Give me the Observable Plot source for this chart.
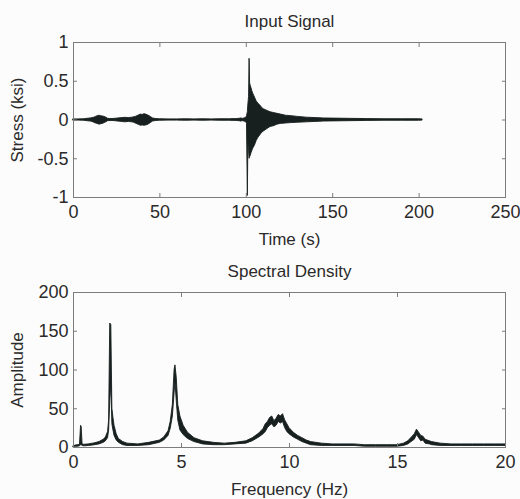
<!DOCTYPE html>
<html>
<head>
<meta charset="utf-8">
<script src="https://cdn.jsdelivr.net/npm/d3@7"></script>
<script src="https://cdn.jsdelivr.net/npm/@observablehq/plot@0.6"></script>
<style>
  html, body { margin: 0; padding: 0; background: #fdfcfc; }
  #chart svg { display: block; }
</style>
</head>
<body>
<div id="chart"></div>
<script>
// ---------- Input signal (envelope) ----------
const sigT  = [0, 3, 6, 8, 10, 11, 12, 13, 14, 15, 16, 17, 18, 19, 20, 22, 24, 26, 28, 30, 32, 34, 35, 36, 37, 38, 39, 40, 41, 42, 43, 44, 45, 46, 48, 50, 55, 60, 65, 70, 75, 80, 85, 90, 94, 96, 97, 98, 99, 100,
               100.4, 100.9, 101.2, 101.6, 101.9, 102.2, 102.6, 103, 103.5, 104, 105, 106, 107, 108, 109, 110, 112, 114, 116, 118, 120, 123, 126, 130, 135, 140, 145, 150, 160, 170, 180, 190, 200, 202];
const sigHi = [0.008, 0.008, 0.01, 0.015, 0.02, 0.025, 0.03, 0.04, 0.05, 0.055, 0.05, 0.045, 0.04, 0.03, 0.015, 0.012, 0.015, 0.02, 0.025, 0.028, 0.025, 0.03, 0.035, 0.04, 0.05, 0.06, 0.07, 0.065, 0.075, 0.07, 0.06, 0.05, 0.035, 0.02, 0.012, 0.01, 0.008, 0.008, 0.01, 0.008, 0.01, 0.008, 0.01, 0.01, 0.012, 0.015, 0.02, 0.015, 0.02, 0.03,
               0.05, 0.1, 0.2, 0.3, 0.79, 0.47, 0.44, 0.41, 0.37, 0.34, 0.29, 0.24, 0.21, 0.19, 0.16, 0.14, 0.12, 0.1, 0.09, 0.08, 0.07, 0.055, 0.05, 0.04, 0.03, 0.025, 0.02, 0.018, 0.015, 0.012, 0.01, 0.01, 0.01, 0.008];
const sigLo = [-0.008, -0.008, -0.01, -0.015, -0.02, -0.025, -0.035, -0.045, -0.05, -0.06, -0.055, -0.05, -0.04, -0.03, -0.015, -0.012, -0.015, -0.02, -0.025, -0.03, -0.025, -0.03, -0.035, -0.045, -0.055, -0.065, -0.075, -0.07, -0.075, -0.07, -0.065, -0.05, -0.035, -0.02, -0.012, -0.01, -0.008, -0.008, -0.01, -0.008, -0.01, -0.008, -0.01, -0.01, -0.012, -0.015, -0.02, -0.015, -0.02, -0.03,
               -0.05, -0.98, -0.3, -0.4, -0.5, -0.48, -0.46, -0.43, -0.4, -0.37, -0.33, -0.27, -0.23, -0.2, -0.17, -0.15, -0.12, -0.09, -0.08, -0.06, -0.05, -0.045, -0.04, -0.035, -0.03, -0.025, -0.02, -0.018, -0.015, -0.012, -0.01, -0.01, -0.01, -0.008];

// ---------- Spectral density (band) ----------
const specF  = [0, 0.1, 0.2, 0.3, 0.35, 0.38, 0.42, 0.5, 0.7, 0.9, 1.0, 1.2, 1.4, 1.5, 1.6, 1.65, 1.7, 1.75, 1.8, 1.85, 1.9, 2.0, 2.1, 2.3, 2.5, 3.0, 3.5, 4.0, 4.2, 4.4, 4.5, 4.6, 4.68, 4.72, 4.78, 4.85, 4.95, 5.1, 5.3, 5.6, 6.0, 6.5, 7.0, 7.5, 8.0, 8.3, 8.6, 8.8, 8.9, 9.0, 9.1, 9.2, 9.3, 9.4, 9.5, 9.6, 9.7, 9.8, 9.9, 10.0, 10.2, 10.4, 10.6, 10.8, 11.0, 11.5, 12.0, 12.5, 13.0, 13.5, 14.0, 14.5, 15.0, 15.3, 15.5, 15.7, 15.8, 15.9, 16.0, 16.1, 16.2, 16.3, 16.5, 16.6, 17.0, 17.5, 18.0, 18.5, 19.0, 19.5, 20.0];
const specLo = [0.5, 1, 1, 1.5, 3, 3, 2, 1.5, 2, 2.5, 3, 4, 6, 8, 12, 22, 60, 80, 30, 22, 15, 9, 6, 3, 2, 2, 3, 6, 9, 15, 24, 40, 70, 85, 60, 35, 22, 16, 11, 7, 4, 3, 3, 4, 5, 8, 13, 17, 20, 25, 28, 30, 26, 28, 33, 31, 33, 25, 20, 17, 13, 10, 7, 5, 3, 2, 2, 2, 2, 1, 1, 1, 1, 2, 4, 8, 10, 16, 12, 8, 9, 5, 4, 3, 2, 2, 2, 2, 2, 2, 2];
const specHi = [1.5, 2.5, 3, 3.5, 28, 26, 4, 3.5, 4, 5, 5.5, 7, 10, 13, 20, 35, 160, 158, 50, 38, 28, 17, 11, 7, 5, 4, 6, 9, 13, 21, 33, 55, 100, 106, 90, 55, 40, 28, 19, 12, 8, 6, 5, 6, 8, 12, 18, 24, 30, 33, 38, 40, 34, 37, 42, 40, 43, 35, 30, 25, 19, 15, 12, 9, 7, 5, 4, 4, 4, 3, 3, 3, 3, 5, 8, 14, 17, 23, 19, 15, 14, 10, 8, 7, 5, 4, 4, 4, 4, 4, 4];

// ---------- Tick values ----------
const timeTicks   = [0, 50, 100, 150, 200, 250];
const stressTicks = [-1, -0.5, 0, 0.5, 1];
const freqTicks   = [0, 5, 10, 15, 20];
const ampTicks    = [0, 50, 100, 150, 200];

const signal   = sigT.map((t, i) => ({t, lo: sigLo[i], hi: sigHi[i]}));
const spectrum = specF.map((f, i) => ({f, lo: specLo[i], hi: specHi[i]}));

const ink = "#17201f";
const frameColor = "#7c7c7c";
const textColor = "#2a2a2a";
const font = "'Liberation Sans', Arial, Helvetica, sans-serif";
const fmt = d => String(d);

function panel({data, xKey, xDomain, yDomain, xTicks, yTicks, title, xLabel, yLabel, height, marginBottom}) {
  return Plot.plot({
    width: 520, height, marginTop: 42, marginBottom, marginLeft: 73, marginRight: 15,
    style: {fontFamily: font, fontSize: "18px", color: textColor, background: "transparent", overflow: "visible"},
    x: {domain: xDomain},
    y: {domain: yDomain},
    marks: [
      Plot.areaY(data, {x: xKey, y1: "lo", y2: "hi", fill: ink, stroke: ink, strokeWidth: 0.9, curve: "linear"}),
      Plot.frame({stroke: frameColor, strokeWidth: 1}),
      // tick labels
      Plot.axisX(xTicks, {anchor: "bottom", tickSize: 0, tickPadding: 8, tickFormat: fmt, label: null, fontSize: 18}),
      Plot.axisY(yTicks, {anchor: "left", tickSize: 0, tickPadding: 5, tickFormat: fmt, label: null, fontSize: 18}),
      // inward tick marks on all four sides
      Plot.axisX(xTicks, {anchor: "bottom", tickSize: 4, dy: -4, text: null, label: null, stroke: frameColor}),
      Plot.axisX(xTicks, {anchor: "top", tickSize: 4, dy: 4, text: null, label: null, stroke: frameColor}),
      Plot.axisY(yTicks, {anchor: "left", tickSize: 4, dx: 4, text: null, label: null, stroke: frameColor}),
      Plot.axisY(yTicks, {anchor: "right", tickSize: 4, dx: -4, text: null, label: null, stroke: frameColor}),
      // titles and axis labels
      Plot.text([title], {text: d => d, frameAnchor: "top", lineAnchor: "middle", textAnchor: "middle", dy: -21, fontSize: 17, fill: textColor}),
      Plot.text([xLabel], {text: d => d, frameAnchor: "bottom", lineAnchor: "middle", textAnchor: "middle", dy: 42, fontSize: 17, fill: textColor}),
      Plot.text([yLabel], {text: d => d, frameAnchor: "left", lineAnchor: "middle", textAnchor: "middle", dx: -56, rotate: -90, fontSize: 17, fill: textColor})
    ]
  });
}

const topPanel = panel({
  data: signal, xKey: "t", xDomain: [0, 250], yDomain: [-1, 1],
  xTicks: timeTicks, yTicks: stressTicks,
  title: "Input Signal", xLabel: "Time (s)", yLabel: "Stress (ksi)",
  height: 250, marginBottom: 53
});
const bottomPanel = panel({
  data: spectrum, xKey: "f", xDomain: [0, 20], yDomain: [0, 200],
  xTicks: freqTicks, yTicks: ampTicks,
  title: "Spectral Density", xLabel: "Frequency (Hz)", yLabel: "Amplitude",
  height: 249, marginBottom: 52
});
document.getElementById("chart").append(topPanel, bottomPanel);
</script>
</body>
</html>
